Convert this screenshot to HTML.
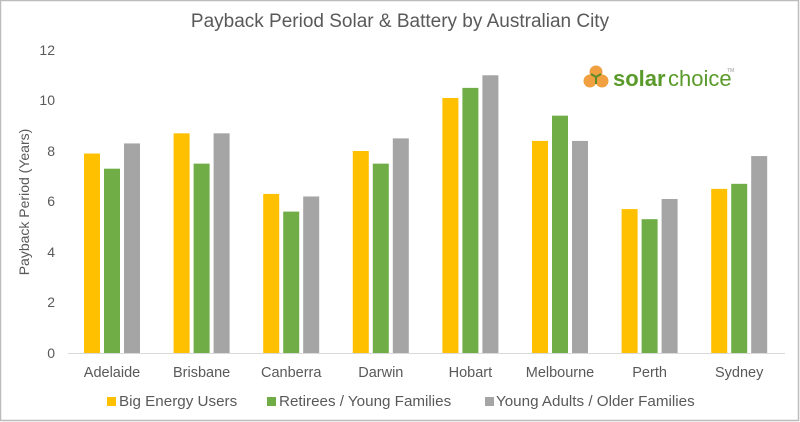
<!DOCTYPE html>
<html><head><meta charset="utf-8"><style>
html,body{margin:0;padding:0;background:#fff}
svg{display:block;font-family:"Liberation Sans",Arial,sans-serif}
</style></head><body>
<svg id="c" width="800" height="422" viewBox="0 0 800 422" xmlns="http://www.w3.org/2000/svg">
<rect x="0.5" y="0.5" width="798" height="420" fill="#fff" stroke="#bcbcbc" stroke-width="1.5"/>
<text x="400" y="27" text-anchor="middle" font-size="19" fill="#595959">Payback Period Solar &amp; Battery by Australian City</text>
<g font-size="14" fill="#595959" text-anchor="end">
<text x="55" y="358">0</text><text x="55" y="307">2</text><text x="55" y="257">4</text>
<text x="55" y="206">6</text><text x="55" y="156">8</text><text x="55" y="105">10</text><text x="55" y="55">12</text>
</g>
<text transform="translate(29,202) rotate(-90)" text-anchor="middle" font-size="14" fill="#595959">Payback Period (Years)</text>
<g id="bars"></g>
<line x1="68" y1="353.5" x2="785" y2="353.5" stroke="#d9d9d9" stroke-width="1"/>
<g id="labels" font-size="14.5" fill="#595959" text-anchor="middle"></g>
<g font-size="15.2" fill="#595959">
<rect x="107" y="397" width="9" height="9" fill="#ffc000"/><text x="119" y="406">Big Energy Users</text>
<rect x="267" y="397" width="9" height="9" fill="#70ad47"/><text x="279" y="406">Retirees / Young Families</text>
<rect x="485" y="397" width="9" height="9" fill="#a5a5a5"/><text x="496" y="406">Young Adults / Older Families</text>
</g>
<g>
<circle cx="596" cy="72" r="6.5" fill="#f0a040"/>
<circle cx="590" cy="81" r="6.5" fill="#f0a040"/>
<circle cx="602" cy="81" r="6.5" fill="#f0a040"/>
<path d="M596 77 l0 7 M596 77 l-5 -3 M596 77 l5 -3" stroke="#5a8a2a" stroke-width="2"/>
<text x="613" y="86" font-size="22" font-weight="bold" fill="#5a9a2a">solar</text>
<text x="668" y="86" font-size="22" fill="#5a9a2a">choice</text>
<text x="727" y="72" font-size="5" fill="#999">TM</text>
</g>
</svg>
<script>
var cities=["Adelaide","Brisbane","Canberra","Darwin","Hobart","Melbourne","Perth","Sydney"];
var d=[[7.9,7.3,8.3],[8.7,7.5,8.7],[6.3,5.6,6.2],[8.0,7.5,8.5],[10.1,10.5,11.0],[8.4,9.4,8.4],[5.7,5.3,6.1],[6.5,6.7,7.8]];
var cols=["#ffc000","#70ad47","#a5a5a5"];
var ns="http://www.w3.org/2000/svg",b=document.getElementById("bars"),l=document.getElementById("labels");
for(var i=0;i<8;i++){var cx=112+i*89.6;
for(var j=0;j<3;j++){var r=document.createElementNS(ns,"rect");var h=d[i][j]*25.25;
r.setAttribute("x",cx-28+j*20);r.setAttribute("y",353-h);r.setAttribute("width",16);r.setAttribute("height",h);r.setAttribute("fill",cols[j]);b.appendChild(r);}
var t=document.createElementNS(ns,"text");t.setAttribute("x",cx);t.setAttribute("y",377);t.textContent=cities[i];l.appendChild(t);}
</script>
</body></html>
